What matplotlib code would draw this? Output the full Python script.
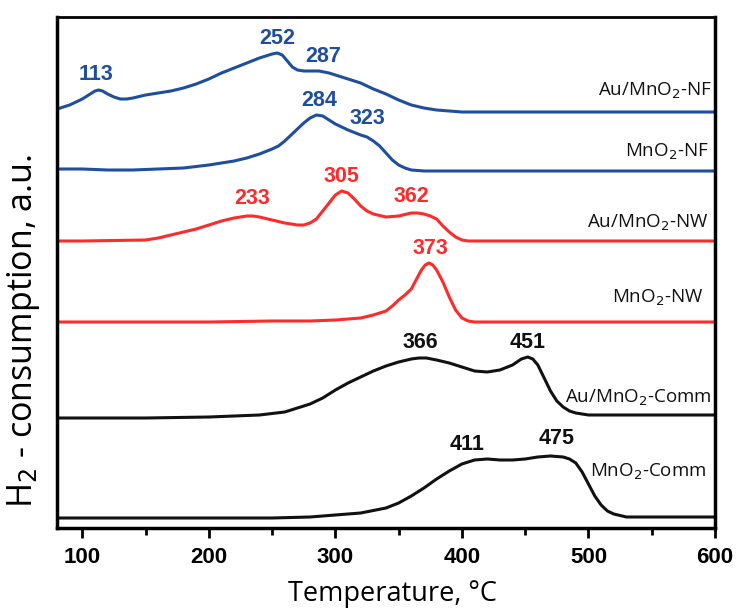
import numpy as np
import matplotlib.pyplot as plt
from matplotlib.ticker import MultipleLocator

# ── colours ────────────────────────────────────────────────────────────────
BLUE = "#1f4e9f"
RED = "#ff2a2a"
BLACK = "#111111"

# ── data (signal above each baseline) ───────────────────────────────────────
t_au_nf = [80, 85, 90, 95, 100, 105, 110, 113, 116, 120, 125, 130, 135, 140, 150,
           160, 170, 180, 190, 200, 210, 220, 230, 240, 245, 250, 254, 258, 262, 266,
           270, 275, 280, 287, 295, 300, 310, 320, 330, 340, 350, 360, 370, 380, 390,
           400, 600]
s_au_nf = [3, 5, 7, 10, 13, 17, 21, 22, 21, 18, 15, 13, 13, 14, 17,
           19, 21, 24, 28, 33, 39, 44, 49, 54, 56, 58, 59, 57, 51, 45,
           42, 41, 41, 41, 39, 37, 33, 29, 23, 18, 12, 7, 4, 2, 1,
           0, 0]

t_nf = [80, 100, 120, 140, 160, 180, 200, 210, 220, 230, 240, 250, 255, 260, 265,
        270, 275, 280, 285, 290, 295, 300, 305, 310, 320, 325, 330, 335, 340, 345,
        350, 355, 360, 370, 600]
s_nf = [2, 2, 1, 1, 2, 3, 6, 8, 10, 13, 17, 22, 25, 30, 36,
        42, 48, 53, 56, 55, 51, 47, 44, 41, 36, 34, 30, 25, 18, 11,
        6, 3, 1, 0, 0]

t_au_nw = [80, 100, 150, 160, 170, 180, 190, 200, 210, 220, 230, 235, 240, 250, 260,
           270, 275, 280, 285, 290, 295, 300, 305, 310, 315, 320, 325, 330, 340, 350,
           360, 365, 370, 375, 380, 385, 390, 395, 400, 405, 600]
s_au_nw = [0, 0, 1, 3, 6, 9, 12, 16, 20, 23, 25, 25, 24, 21, 18,
           16, 16, 18, 22, 30, 38, 46, 50, 48, 42, 35, 30, 27, 24, 25,
           28, 28, 27, 25, 22, 15, 9, 4, 1, 0, 0]

t_nw = [80, 200, 250, 280, 300, 320, 330, 340, 345, 350, 355, 360, 365, 368, 371,
        374, 377, 380, 385, 390, 395, 400, 405, 410, 600]
s_nw = [0, 0, 1, 1, 2, 4, 7, 11, 16, 22, 27, 33, 45, 52, 57,
        59, 57, 52, 40, 25, 12, 4, 1, 0, 0]

t_au_comm = [80, 150, 200, 240, 260, 270, 280, 290, 300, 310, 320, 330, 340, 350, 360,
             366, 372, 380, 390, 400, 410, 420, 430, 440, 447, 452, 456, 460, 465, 470,
             475, 480, 485, 490, 500, 600]
s_au_comm = [0, 0, 1, 3, 6, 10, 14, 20, 28, 35, 41, 47, 52, 56, 59,
             60, 60, 58, 55, 51, 47, 46, 48, 53, 59, 61, 59, 53, 40, 27,
             17, 11, 7, 5, 3, 3]

t_comm = [80, 250, 280, 300, 320, 340, 350, 360, 370, 380, 390, 400, 410, 420, 430,
          440, 450, 460, 470, 480, 485, 490, 495, 500, 505, 510, 515, 520, 530, 600]
s_comm = [0, 0, 1, 3, 5, 10, 15, 22, 30, 39, 47, 54, 58, 59, 58,
          58, 59, 61, 62, 61, 59, 55, 46, 34, 22, 13, 7, 4, 1, 1]

names = ["Au/MnO$_2$-NF", "MnO$_2$-NF", "Au/MnO$_2$-NW", "MnO$_2$-NW",
         "Au/MnO$_2$-Comm", "MnO$_2$-Comm"]
temps = [t_au_nf, t_nf, t_au_nw, t_nw, t_au_comm, t_comm]
signals = [s_au_nf, s_nf, s_au_nw, s_nw, s_au_comm, s_comm]
colors = [BLUE, BLUE, RED, RED, BLACK, BLACK]
offsets = [416, 357, 287, 206, 110, 10]

peaks = [[113, 252, 287], [284, 323], [233, 305, 362], [373], [366, 451], [411, 475]]

# label placement (style only)
peak_dx = [[-2, 2, 3], [3, 2], [1, 0, -2], [2], [1, 1], [-7, 0]]
peak_y = [[453, 489, 472], [427, 410], [329, 352, 332], [279], [186, 186], [84, 89]]
name_x = [597.5, 594.5, 594.5, 591, 597.5, 593.5]
name_y = [437, 376, 305, 230, 130, 56]

# ── figure ─────────────────────────────────────────────────────────────────
fig = plt.figure(figsize=(7.37, 6.08), dpi=100)
ax = fig.add_axes([57 / 737, 80 / 608, 658 / 737, 511 / 608])

for t, s, c, off in zip(temps, signals, colors, offsets):
    ax.plot(t, np.array(s) + off, color=c, lw=2.2, solid_joinstyle="round")

for pk, dx, py, c in zip(peaks, peak_dx, peak_y, colors):
    for p, d, y in zip(pk, dx, py):
        ax.text(p + d, y, str(p), color=c, fontsize=15.5, fontweight="bold",
                family="Liberation Sans", ha="center", va="center")

for n, x, y in zip(names, name_x, name_y):
    ax.text(x, y, n, fontsize=13.5, family="Open Sans", ha="right", va="center",
            color="#111111")

ax.set_xlim(80, 600)
ax.set_ylim(0, 511)
ax.set_yticks([])
ax.xaxis.set_major_locator(MultipleLocator(100))
ax.xaxis.set_minor_locator(MultipleLocator(50))
ax.tick_params(axis="x", which="major", direction="out", length=7, width=2,
               labelsize=16, pad=7)
ax.tick_params(axis="x", which="minor", direction="out", length=5, width=2)
for lab in ax.get_xticklabels():
    lab.set_fontweight("bold")
    lab.set_family("Liberation Sans")
for side in ["left", "bottom", "right"]:
    ax.spines[side].set_linewidth(2.5)
ax.spines["top"].set_linewidth(2)

fig.text(392 / 737, 1 - 601 / 608, "Temperature, °C", fontsize=19.5, family="Open Sans",
         ha="center", va="baseline")
fig.text(24 / 737, 1 - 331 / 608, "H$_2$ - consumption, a.u.", fontsize=24.5,
         family="Open Sans", rotation=90, ha="center", va="center")

fig.savefig("out.png", dpi=100)
